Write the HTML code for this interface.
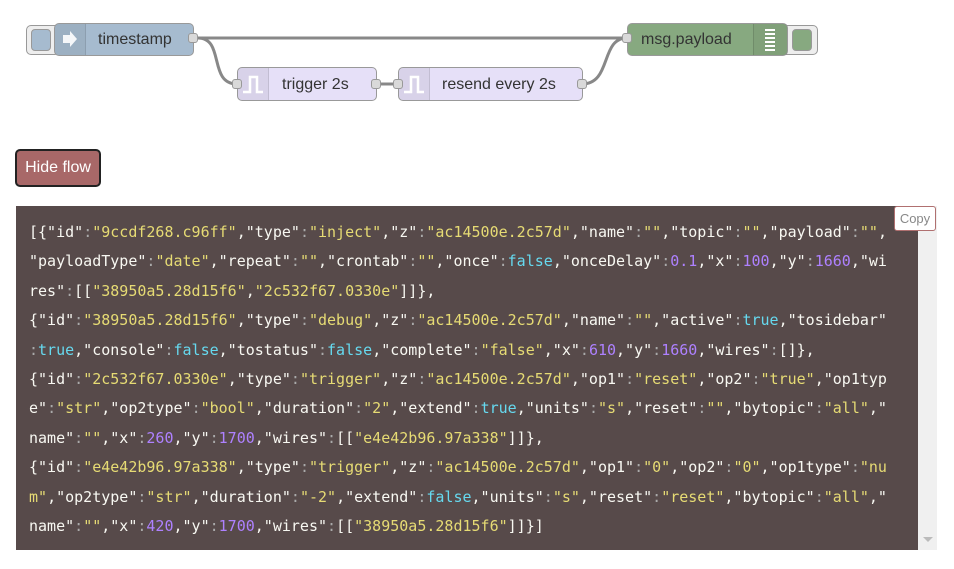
<!DOCTYPE html>
<html><head><meta charset="utf-8">
<style>
body{margin:0;width:954px;height:569px;background:#fff;position:relative;overflow:hidden;font-family:"Liberation Sans",Helvetica,Arial,sans-serif}
.abs{position:absolute}
.node{position:absolute;border:1px solid #999;border-radius:5px;box-sizing:border-box;font-size:16px;color:#333}
.icon{position:absolute;left:0;top:0;bottom:0;width:30px;background:rgba(0,0,0,0.06);border-right:1px solid rgba(0,0,0,0.1);border-radius:4px 0 0 4px}
.port{position:absolute;width:10px;height:10px;background:#d9d9d9;border:1px solid #999;border-radius:3px;box-sizing:border-box}
.lbl{position:absolute;top:0;line-height:31px}
.btnbox{position:absolute;border:1px solid #999;border-radius:5px;background:#eee;box-sizing:border-box}
.btnin{position:absolute;border:1px solid #999;border-radius:4px;box-sizing:border-box}
pre{position:absolute;left:16px;top:206px;width:902px;height:344px;margin:0;background:#574a4a;color:#f8f8f2;font-family:"DejaVu Sans Mono","Liberation Mono",monospace;font-size:15px;line-height:29.4px;padding:12px 13px;box-sizing:border-box;white-space:pre;overflow:hidden}
.s{color:#e6db74}.n{color:#ae81ff}.b{color:#66d9ef}.c{color:#aaa}
</style></head><body>
<svg class="abs" style="left:0;top:0" width="954" height="120">
<path d="M198 38 L622 38" stroke="#888" stroke-width="3" fill="none"/>
<path d="M198 38 C225 38 208 84 237 84" stroke="#888" stroke-width="3" fill="none"/>
<path d="M376 84 L398 84" stroke="#888" stroke-width="3" fill="none"/>
<path d="M582 84 C612 84 600 38 627 38" stroke="#888" stroke-width="3" fill="none"/>
</svg>
<div class="btnbox" style="left:26px;top:25px;width:34px;height:30px"></div>
<div class="btnin" style="left:31px;top:29px;width:20px;height:22px;background:#a6bbcf"></div>
<div class="node" style="left:54px;top:23px;width:140px;height:33px;background:#a6bbcf">
<div class="icon"><svg width="30" height="31"><path d="M8 11h7v-4l7 8-7 8v-4H8z" fill="#fff" opacity=".9"/></svg></div>
<div class="lbl" style="left:43px">timestamp</div></div>
<div class="port" style="left:188px;top:33px"></div>
<div class="node" style="left:237px;top:67px;width:140px;height:34px;background:#e6e0f8">
<div class="icon"><svg width="30" height="32"><path d="M5 24h7V9h7v15h6" stroke="#fff" stroke-width="2.5" fill="none"/></svg></div>
<div class="lbl" style="left:44px;line-height:33px">trigger 2s</div></div>
<div class="port" style="left:232px;top:79px"></div>
<div class="port" style="left:371px;top:79px"></div>
<div class="node" style="left:398px;top:67px;width:185px;height:34px;background:#e6e0f8">
<div class="icon"><svg width="30" height="32"><path d="M5 24h7V9h7v15h6" stroke="#fff" stroke-width="2.5" fill="none"/></svg></div>
<div class="lbl" style="left:43px;line-height:33px">resend every 2s</div></div>
<div class="port" style="left:393px;top:79px"></div>
<div class="port" style="left:577px;top:79px"></div>
<div class="btnbox" style="left:780px;top:25px;width:38px;height:30px"></div>
<div class="btnin" style="left:792px;top:29px;width:20px;height:22px;background:#87a980"></div>
<div class="node" style="left:627px;top:23px;width:161px;height:33px;background:#87a980">
<div class="lbl" style="left:13px">msg.payload</div>
<div style="position:absolute;right:0;top:0;bottom:0;width:33px;border-left:1px solid rgba(0,0,0,0.12);background:rgba(0,0,0,0.05)">
<svg width="33" height="31"><g stroke="#fff" stroke-width="2"><path d="M11 6h10M11 10h10M11 14h10M11 18h10M11 22h10M11 26h10"/></g></svg></div></div>
<div class="port" style="left:622px;top:33px"></div>
<div class="abs" style="left:15px;top:149px;width:86px;height:38px;background:#a86868;border:2px solid #222;border-radius:5px;box-sizing:border-box;color:#fff;font-size:16px;line-height:34px;text-align:center">Hide flow</div>
<pre>[{"id"<span class="c">:</span><span class="s">"9ccdf268.c96ff"</span>,"type"<span class="c">:</span><span class="s">"inject"</span>,"z"<span class="c">:</span><span class="s">"ac14500e.2c57d"</span>,"name"<span class="c">:</span><span class="s">""</span>,"topic"<span class="c">:</span><span class="s">""</span>,"payload"<span class="c">:</span><span class="s">""</span>,
"payloadType"<span class="c">:</span><span class="s">"date"</span>,"repeat"<span class="c">:</span><span class="s">""</span>,"crontab"<span class="c">:</span><span class="s">""</span>,"once"<span class="c">:</span><span class="b">false</span>,"onceDelay"<span class="c">:</span><span class="n">0.1</span>,"x"<span class="c">:</span><span class="n">100</span>,"y"<span class="c">:</span><span class="n">1660</span>,"wi
res"<span class="c">:</span>[[<span class="s">"38950a5.28d15f6"</span>,<span class="s">"2c532f67.0330e"</span>]]},
{"id"<span class="c">:</span><span class="s">"38950a5.28d15f6"</span>,"type"<span class="c">:</span><span class="s">"debug"</span>,"z"<span class="c">:</span><span class="s">"ac14500e.2c57d"</span>,"name"<span class="c">:</span><span class="s">""</span>,"active"<span class="c">:</span><span class="b">true</span>,"tosidebar"
<span class="c">:</span><span class="b">true</span>,"console"<span class="c">:</span><span class="b">false</span>,"tostatus"<span class="c">:</span><span class="b">false</span>,"complete"<span class="c">:</span><span class="s">"false"</span>,"x"<span class="c">:</span><span class="n">610</span>,"y"<span class="c">:</span><span class="n">1660</span>,"wires"<span class="c">:</span>[]},
{"id"<span class="c">:</span><span class="s">"2c532f67.0330e"</span>,"type"<span class="c">:</span><span class="s">"trigger"</span>,"z"<span class="c">:</span><span class="s">"ac14500e.2c57d"</span>,"op1"<span class="c">:</span><span class="s">"reset"</span>,"op2"<span class="c">:</span><span class="s">"true"</span>,"op1typ
e"<span class="c">:</span><span class="s">"str"</span>,"op2type"<span class="c">:</span><span class="s">"bool"</span>,"duration"<span class="c">:</span><span class="s">"2"</span>,"extend"<span class="c">:</span><span class="b">true</span>,"units"<span class="c">:</span><span class="s">"s"</span>,"reset"<span class="c">:</span><span class="s">""</span>,"bytopic"<span class="c">:</span><span class="s">"all"</span>,"
name"<span class="c">:</span><span class="s">""</span>,"x"<span class="c">:</span><span class="n">260</span>,"y"<span class="c">:</span><span class="n">1700</span>,"wires"<span class="c">:</span>[[<span class="s">"e4e42b96.97a338"</span>]]},
{"id"<span class="c">:</span><span class="s">"e4e42b96.97a338"</span>,"type"<span class="c">:</span><span class="s">"trigger"</span>,"z"<span class="c">:</span><span class="s">"ac14500e.2c57d"</span>,"op1"<span class="c">:</span><span class="s">"0"</span>,"op2"<span class="c">:</span><span class="s">"0"</span>,"op1type"<span class="c">:</span><span class="s">"nu
m"</span>,"op2type"<span class="c">:</span><span class="s">"str"</span>,"duration"<span class="c">:</span><span class="s">"-2"</span>,"extend"<span class="c">:</span><span class="b">false</span>,"units"<span class="c">:</span><span class="s">"s"</span>,"reset"<span class="c">:</span><span class="s">"reset"</span>,"bytopic"<span class="c">:</span><span class="s">"all"</span>,"
name"<span class="c">:</span><span class="s">""</span>,"x"<span class="c">:</span><span class="n">420</span>,"y"<span class="c">:</span><span class="n">1700</span>,"wires"<span class="c">:</span>[[<span class="s">"38950a5.28d15f6"</span>]]}]</pre>
<div class="abs" style="left:918px;top:206px;width:19px;height:344px;background:#f0f0f0"></div>
<svg class="abs" style="left:922px;top:536px" width="12" height="8"><path d="M1 1h10L6 6z" fill="#bbb"/></svg>
<div class="abs" style="left:894px;top:206px;width:42px;height:25px;background:#fff;border:1px solid #b07070;border-radius:3px;box-sizing:border-box;color:#888;font-size:13px;line-height:23px;text-align:center">Copy</div>
</body></html>
